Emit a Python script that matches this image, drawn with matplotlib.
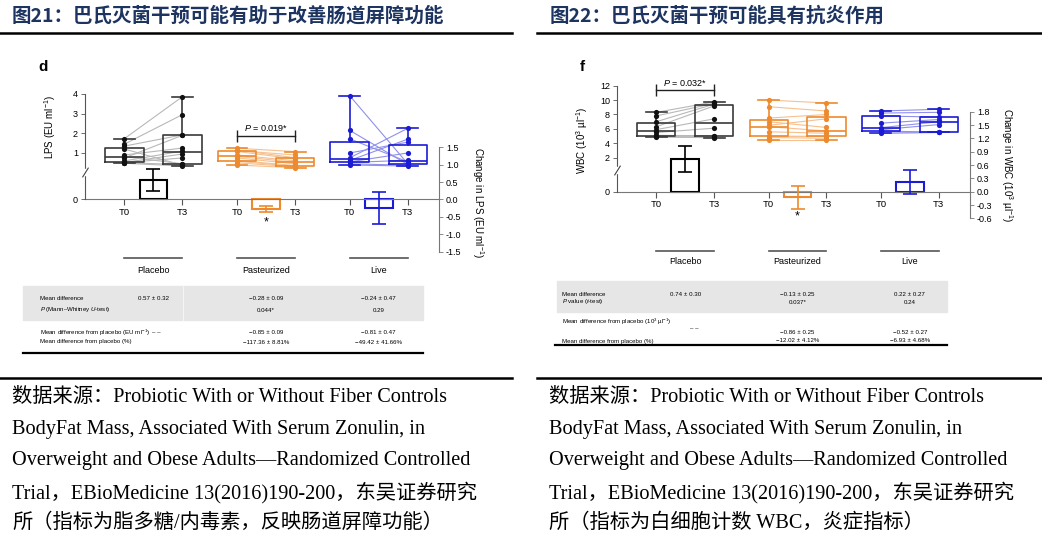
import numpy as np
import matplotlib.pyplot as plt
import matplotlib.transforms as mtransforms
from matplotlib.patches import Rectangle
from matplotlib.lines import Line2D

plt.rcParams['font.family'] = ['Liberation Sans', 'DejaVu Sans']
plt.rcParams['mathtext.fontset'] = 'custom'
plt.rcParams['mathtext.rm'] = 'Liberation Sans'
plt.rcParams['mathtext.it'] = 'Liberation Sans:italic'
plt.rcParams['mathtext.bf'] = 'Liberation Sans:bold'

W, H = 1042, 544  # figure size in pixels

#Groups and time points
groups = ['Placebo', 'Pasteurized', 'Live']
times = ['T0', 'T3']

#LPS (EU/ml) per subject, paired T0 -> T3
lps_placebo_t0 = [1.73, 1.45, 1.35, 1.20, 0.90, 0.82, 0.75, 0.60, 0.52, 0.51, 0.50, 0.48]
lps_placebo_t3 = [3.86, 2.95, 1.92, 0.38, 1.25, 0.45, 1.90, 1.10, 0.95, 0.75, 0.42, 0.34]
lps_past_t0 = [1.24, 1.15, 1.12, 1.08, 0.90, 0.83, 0.75, 0.62, 0.58, 0.50, 0.39]
lps_past_t3 = [1.07, 0.76, 0.90, 0.70, 0.60, 0.53, 0.45, 0.36, 0.33, 0.30, 0.25]
lps_live_t0 = [3.91, 2.15, 1.72, 1.00, 0.75, 0.62, 0.55, 0.52, 0.45, 0.39]
lps_live_t3 = [0.46, 0.42, 0.55, 1.55, 2.25, 1.70, 1.00, 0.63, 0.38, 0.34]
lps_change = [0.57, -0.28, -0.24]
lps_change_sd = [0.32, 0.09, 0.47]

#WBC (10^3/ul) per subject, paired T0 -> T3
wbc_placebo_t0 = [8.30, 7.80, 7.00, 6.30, 5.90, 5.50, 5.10, 5.05, 4.95, 4.87]
wbc_placebo_t3 = [9.74, 9.55, 9.45, 9.20, 7.40, 6.10, 5.05, 4.98, 4.85, 4.78]
wbc_past_t0 = [10.0, 9.08, 7.50, 7.00, 6.50, 6.31, 5.60, 5.05, 5.00, 4.80, 4.46]
wbc_past_t3 = [9.60, 8.49, 8.00, 6.20, 7.40, 5.71, 5.40, 5.05, 4.95, 4.70, 4.46]
wbc_live_t0 = [8.49, 8.20, 7.79, 6.80, 6.17, 5.90, 5.71, 5.60, 5.38]
wbc_live_t3 = [8.72, 8.30, 7.65, 7.30, 7.00, 6.60, 5.53, 5.53, 5.50]
wbc_change = [0.74, -0.13, 0.22]
wbc_change_sd = [0.30, 0.25, 0.27]

#Table texts
lps_mean_txt = ['0.57 ± 0.32', '−0.28 ± 0.09', '−0.24 ± 0.47']
lps_p_txt = ['', '0.044*', '0.29']
lps_diff_txt = ['', '−0.85 ± 0.09', '−0.81 ± 0.47']
lps_pct_txt = ['', '−117.36 ± 8.81%', '−49.42 ± 41.66%']
wbc_mean_txt = ['0.74 ± 0.30', '−0.13 ± 0.25', '0.22 ± 0.27']
wbc_p_txt = ['', '0.037*', '0.24']
wbc_diff_txt = ['', '−0.86 ± 0.25', '−0.52 ± 0.27']
wbc_pct_txt = ['', '−12.02 ± 4.12%', '−6.93 ± 4.68%']

title_left = '图21：巴氏灭菌干预可能有助于改善肠道屏障功能'
title_right = '图22：巴氏灭菌干预可能具有抗炎作用'
src_left = ['数据来源：Probiotic With or Without Fiber Controls',
            'BodyFat Mass, Associated With Serum Zonulin, in',
            'Overweight and Obese Adults—Randomized Controlled',
            'Trial，EBioMedicine 13(2016)190-200，东吴证券研究',
            '所（指标为脂多糖/内毒素，反映肠道屏障功能）']
src_right = ['数据来源：Probiotic With or Without Fiber Controls',
             'BodyFat Mass, Associated With Serum Zonulin, in',
             'Overweight and Obese Adults—Randomized Controlled',
             'Trial，EBioMedicine 13(2016)190-200，东吴证券研究',
             '所（指标为白细胞计数 WBC，炎症指标）']

#Styles
box_colors = ['#3a3a3a', '#ee8a2e', '#1b1bd4']
dot_colors = ['#111111', '#ee8a2e', '#1b1bd4']
pair_colors = ['#b8b8b8', '#f6c18f', '#9090ec']
bar_colors = ['#000000', '#ee8a2e', '#1b1bd4']
navy = '#1d3461'
x_t0 = np.array([0.0, 1.94, 3.88])
x_t3 = x_t0 + 1
x_mid = x_t0 + 0.5

fig = plt.figure(figsize=(W / 100, H / 100), dpi=100)

def fx(px):
    return px / W

def fy(py):
    return 1 - py / H

def px_box(left, top, right, bottom):
    return [left / W, 1 - bottom / H, (right - left) / W, (bottom - top) / H]

def hline(x0, x1, y, lw):
    fig.add_artist(Line2D([fx(x0), fx(x1)], [fy(y), fy(y)], color='black', lw=lw, transform=fig.transFigure))

#Draw one chart: boxes of level (twin axis, left) + bars of change (main axis, right)
def draw_panel(box, level, change, change_sd, chg_lim, lvl_lim, lvl_ticks, chg_ticks,
               brk, ylabel, ylabel_xy, rlabel, rlabel_xy, pbar_group, pbar_y, ptext,
               star_y, line_y, label_y):
    ax = fig.add_axes(box)
    ax.set_xlim(-0.68, 5.42)
    ax.set_ylim(chg_lim)
    ax.patch.set_visible(False)
    axl = ax.twinx()
    axl.set_ylim(lvl_lim)

    #bars for change
    for i in range(3):
        ax.bar(x_mid[i], change[i], width=0.48, color='white', edgecolor=bar_colors[i],
               linewidth=1.5, zorder=2)
        ax.errorbar(x_mid[i], change[i], yerr=change_sd[i], fmt='none', ecolor=bar_colors[i],
                    elinewidth=1.2, capsize=5, capthick=1.2, zorder=3)

    #paired lines + boxes + dots
    for i in range(3):
        t0, t3 = level[i]
        for a, b in zip(t0, t3):
            axl.plot([x_t0[i], x_t3[i]], [a, b], color=pair_colors[i], lw=0.8, zorder=1)
        props = dict(color=box_colors[i], linewidth=1.2)
        axl.boxplot([t0, t3], positions=[x_t0[i], x_t3[i]], widths=0.66, whis=(0, 100),
                    showfliers=False, manage_ticks=False, boxprops=props, whiskerprops=props,
                    capprops=props, medianprops=props, capwidths=0.36)
        axl.scatter([x_t0[i]] * len(t0) + [x_t3[i]] * len(t3), list(t0) + list(t3),
                    s=14, color=dot_colors[i], zorder=4, linewidths=0)

    #axes and ticks
    for s in ['top', 'left']:
        ax.spines[s].set_visible(False)
    ax.spines['bottom'].set_position(('data', 0))
    ax.spines['bottom'].set_color('#777777')
    ax.spines['right'].set_bounds(chg_ticks[0], chg_ticks[-1])
    ax.spines['right'].set_color('#777777')
    ax.yaxis.tick_right()
    ax.set_yticks(chg_ticks, labels=['%.1f' % t for t in chg_ticks])
    ax.set_xticks(list(x_t0) + list(x_t3), labels=[times[0]] * 3 + [times[1]] * 3)
    ax.tick_params(axis='y', direction='out', length=3, width=0.6, color='#777777',
                   labelsize=6.5, pad=2)
    ax.tick_params(axis='x', direction='out', length=4, width=0.8, color='#555555',
                   labelsize=6.8, pad=2)
    ax.yaxis.set_label_position('right')
    ax.set_ylabel(rlabel, rotation=-90, fontsize=7, va='center')
    ax.yaxis.set_label_coords(*rlabel_xy)

    for s in ['top', 'right', 'bottom']:
        axl.spines[s].set_visible(False)
    v0 = lvl_lim[0] + (0 - chg_lim[0]) / (chg_lim[1] - chg_lim[0]) * (lvl_lim[1] - lvl_lim[0])
    axl.spines['left'].set_bounds(v0, lvl_ticks[-1])
    axl.spines['left'].set_color('#555555')
    axl.yaxis.tick_left()
    axl.set_yticks([v0] + lvl_ticks, labels=['0'] + [str(t) for t in lvl_ticks])
    axl.tick_params(axis='y', direction='out', length=3, width=0.6, color='#555555',
                    labelsize=6.5, pad=2)
    axl.yaxis.set_label_position('left')
    axl.set_ylabel(ylabel, fontsize=7)
    axl.yaxis.set_label_coords(*ylabel_xy)

    #axis break
    tr = axl.get_yaxis_transform()
    axl.plot([0], [brk], marker='s', markersize=4, color='white', transform=tr,
             clip_on=False, zorder=5)
    axl.plot([0], [brk], marker=[(-1, -1.6), (1, 1.6)], markersize=7, color='#444444',
             markeredgewidth=0.8, fillstyle='none', transform=tr, clip_on=False, zorder=6)

    #P bracket
    g = pbar_group
    axl.plot([x_t0[g], x_t3[g]], [pbar_y, pbar_y], color='#222222', lw=1.0,
             marker='|', markersize=8, markeredgewidth=1.0)
    axl.annotate(ptext, ((x_t0[g] + x_t3[g]) / 2, pbar_y), xytext=(0, 2),
                 textcoords='offset points', ha='center', va='bottom', fontsize=6.5)

    ax.text(x_mid[1], star_y, '*', ha='center', va='center', fontsize=9)

    #group labels
    for i in range(3):
        ax.plot([x_t0[i], x_t3[i]], [line_y, line_y], color='#555555', lw=1.2, clip_on=False)
        ax.text(x_mid[i], label_y, groups[i], ha='center', va='center', fontsize=6.5)
    return ax

def draw_table(ax, rect, divider, label_x, mean_txt, p_txt, p_label, diff_txt, pct_txt,
               diff_label, rows, dash_xy, line_x, line_y):
    x0, y0, x1, y1 = rect
    fig.add_artist(Rectangle((fx(x0), fy(y1)), fx(x1 - x0), (y1 - y0) / H,
                             transform=fig.transFigure, color='#e6e6e6', zorder=0))
    if divider:
        fig.add_artist(Line2D([fx(divider)] * 2, [fy(y0), fy(y1)], color='#f4f4f4', lw=0.8,
                              transform=fig.transFigure))
    fs = 4.4
    y_mean, y_p, y_diff_label, y_diff, y_pct = rows
    fig.text(fx(label_x), fy(y_mean), 'Mean difference', fontsize=fs, va='center')
    fig.text(fx(label_x), fy(y_p), p_label, fontsize=fs, va='center')
    fig.text(fx(label_x), fy(y_diff_label), diff_label, fontsize=fs, va='center')
    fig.text(fx(label_x), fy(y_pct), 'Mean difference from placebo (%)', fontsize=fs, va='center')
    fig.text(fx(dash_xy[0]), fy(dash_xy[1]), '– –', fontsize=fs, va='center')
    tr = mtransforms.blended_transform_factory(ax.transData, fig.transFigure)
    for i in range(3):
        ax.text(x_mid[i], fy(y_mean), mean_txt[i], transform=tr, ha='center', va='center', fontsize=fs)
        ax.text(x_mid[i], fy(y_p), p_txt[i], transform=tr, ha='center', va='center', fontsize=fs)
        ax.text(x_mid[i], fy(y_diff), diff_txt[i], transform=tr, ha='center', va='center', fontsize=fs)
        ax.text(x_mid[i], fy(y_pct), pct_txt[i], transform=tr, ha='center', va='center', fontsize=fs)
    hline(line_x[0], line_x[1], line_y, 1.6)

#Left chart: LPS
axL = draw_panel(px_box(85, 85, 439, 260),
                 [(lps_placebo_t0, lps_placebo_t3), (lps_past_t0, lps_past_t3), (lps_live_t0, lps_live_t3)],
                 lps_change, lps_change_sd, (-1.744, 3.30), (-4.43, 4.45), [1, 2, 3, 4],
                 list(np.arange(-1.5, 1.51, 0.5)), 0.05,
                 'LPS (EU ml$^{-1}$)', (-0.076, 0.76), 'Change in LPS (EU ml$^{-1}$)', (1.11, 0.33),
                 1, 1.86, '$P$ = 0.019*', -0.67, -1.68, -2.06)
draw_table(axL, (23, 286, 423, 320), 183, 40, lps_mean_txt, lps_p_txt,
           '$P$ (Mann–Whitney $U$-test)', lps_diff_txt, lps_pct_txt,
           'Mean difference from placebo (EU ml$^{-1}$)', (299, 310, 333, 333, 342),
           (152, 333), (23, 423), 352.5)

#Right chart: WBC
axR = draw_panel(px_box(617, 80, 970, 255),
                 [(wbc_placebo_t0, wbc_placebo_t3), (wbc_past_t0, wbc_past_t3), (wbc_live_t0, wbc_live_t3)],
                 wbc_change, wbc_change_sd, (-1.426, 2.516), (-11.51, 12.79), [2, 4, 6, 8, 10, 12],
                 list(np.arange(-0.6, 1.81, 0.3)), 0.3,
                 'WBC (10$^3$ µl$^{-1}$)', (-0.076, 0.657), 'Change in WBC (10$^3$ µl$^{-1}$)', (1.105, 0.514),
                 0, 11.36, '$P$ = 0.032*', -0.56, -1.336, -1.58)
draw_table(axR, (557, 281, 947, 312), None, 562, wbc_mean_txt, wbc_p_txt,
           '$P$ value ($t$-test)', wbc_diff_txt, wbc_pct_txt,
           'Mean difference from placebo (10$^3$ µl$^{-1}$)', (294, 302, 322, 333, 341),
           (690, 328), (555, 947), 344.5)

#Panel letters
fig.text(fx(38), fy(67), 'd', fontsize=11, fontweight='bold', va='center')
fig.text(fx(580), fy(67), 'f', fontsize=11, fontweight='bold', va='center')

#Titles and separator lines
fig.text(fx(12), fy(16), title_left, fontsize=14, fontweight='bold', color=navy,
         family=['Noto Sans CJK SC'], va='center')
fig.text(fx(550), fy(16), title_right, fontsize=14, fontweight='bold', color=navy,
         family=['Noto Sans CJK SC'], va='center')
hline(0, 512, 33, 1.8)
hline(537, 1042, 33, 1.8)
hline(0, 512, 378, 1.8)
hline(537, 1042, 378, 1.8)

#Source notes
for k, y in enumerate([398, 429.5, 461, 493, 523.5]):
    fig.text(fx(12), fy(y), src_left[k], fontsize=14.6, va='center',
             family=['Liberation Serif', 'Noto Sans CJK SC'])
    fig.text(fx(549), fy(y), src_right[k], fontsize=14.6, va='center',
             family=['Liberation Serif', 'Noto Sans CJK SC'])

fig.savefig('out.png', dpi=100)
